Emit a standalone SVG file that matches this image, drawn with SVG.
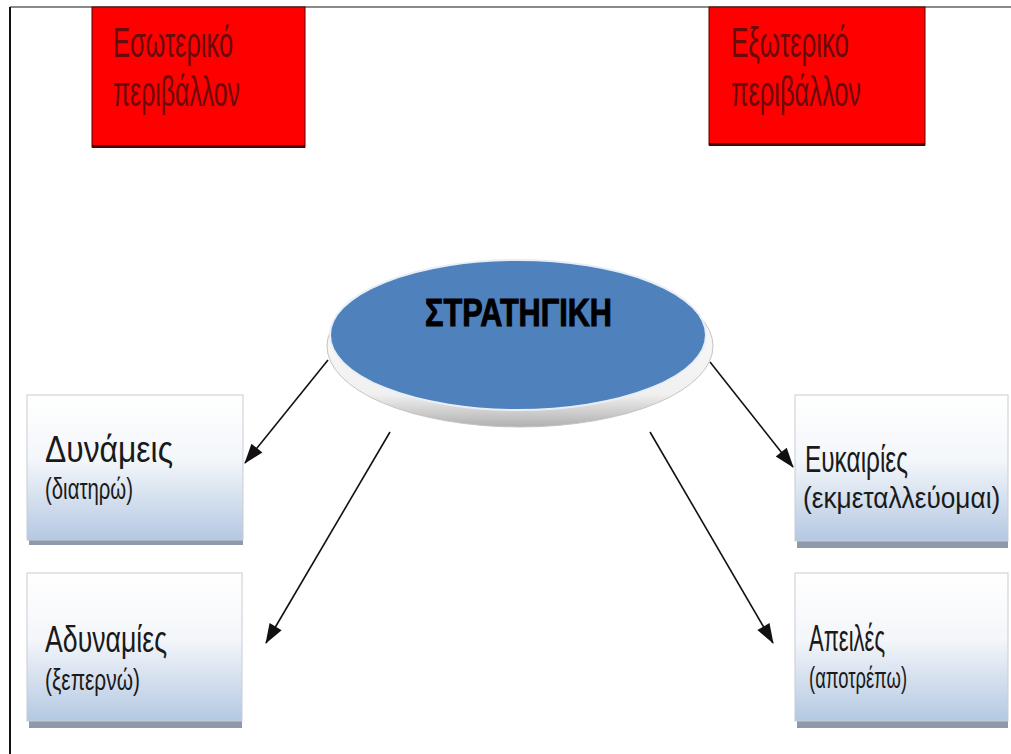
<svg xmlns="http://www.w3.org/2000/svg" width="1011" height="754" viewBox="0 0 1011 754">
<defs>
<style>
.red{fill:#ff0000;stroke:#5a0000;stroke-width:1}
.redtxt{font-family:"Liberation Sans",Arial,sans-serif;font-size:43px;fill:#6a0b0b}
.box{fill:url(#bg);stroke:#c8ccd2;stroke-width:1}
.shadow{fill:#8e9aab}
.main{font-family:"Liberation Sans",Arial,sans-serif;font-size:37px;fill:#1a1a1a}
.sub{font-family:"Liberation Sans",Arial,sans-serif;font-size:30px;fill:#1a1a1a}
.conn{stroke:#111;stroke-width:1.6;fill:none;marker-end:url(#ah)}
</style>
<linearGradient id="bg" x1="0" y1="0" x2="0" y2="1">
<stop offset="0" stop-color="#ffffff"/>
<stop offset="0.45" stop-color="#f3f6fa"/>
<stop offset="1" stop-color="#b4c8e2"/>
</linearGradient>
<linearGradient id="rim" x1="0" y1="0" x2="0" y2="1">
<stop offset="0" stop-color="#ffffff"/>
<stop offset="0.8" stop-color="#f0f0f0"/>
<stop offset="1" stop-color="#b0b0b0"/>
</linearGradient>
<marker id="ah" viewBox="0 0 20 14" refX="19" refY="7" markerWidth="20" markerHeight="14" markerUnits="userSpaceOnUse" orient="auto" overflow="visible">
<path d="M0,0 L20,7 L0,14 z" fill="#111"/>
</marker>
</defs>
<rect x="0" y="0" width="1011" height="754" fill="#ffffff"/>
<line x1="10" y1="7" x2="1011" y2="7" stroke="#8a8a8a" stroke-width="2"/>
<line x1="10" y1="7" x2="10" y2="754" stroke="#111" stroke-width="2"/>

<g id="connectors">
<line class="conn" x1="328" y1="360" x2="245" y2="463"/>
<line class="conn" x1="390" y1="432" x2="266" y2="643"/>
<line class="conn" x1="710" y1="362" x2="793" y2="467"/>
<line class="conn" x1="650" y1="432" x2="773" y2="643"/>
</g>

<g id="internal">
<rect class="red" x="92" y="7" width="213" height="140"/>
<rect x="92" y="145" width="213" height="3" fill="#4a0000"/>
<text class="redtxt" x="113" y="57" textLength="120" lengthAdjust="spacingAndGlyphs">Εσωτερικό</text>
<text class="redtxt" x="113" y="106" textLength="127" lengthAdjust="spacingAndGlyphs">περιβάλλον</text>
</g>

<g id="external">
<rect class="red" x="709" y="7" width="216" height="138"/>
<rect x="709" y="143" width="216" height="3" fill="#4a0000"/>
<text class="redtxt" x="731" y="57" textLength="118" lengthAdjust="spacingAndGlyphs">Εξωτερικό</text>
<text class="redtxt" x="731" y="106" textLength="130" lengthAdjust="spacingAndGlyphs">περιβάλλον</text>
</g>

<g id="strategy">
<ellipse cx="520" cy="346" rx="193" ry="81" fill="url(#rim)" stroke="#c4c4c4" stroke-width="1"/>
<ellipse cx="518" cy="335" rx="188" ry="75" fill="#4f81bd" stroke="#e8eef6" stroke-width="2"/>
<text x="425" y="326" textLength="187" lengthAdjust="spacingAndGlyphs" style="font-family:'Liberation Sans',Arial,sans-serif;font-size:39px;font-weight:bold;fill:#000;stroke:#000;stroke-width:1">ΣΤΡΑΤΗΓΙΚΗ</text>
</g>

<g id="strengths">
<rect class="shadow" x="29" y="535" width="214" height="10"/>
<rect class="box" x="27" y="395" width="216" height="145"/>
<text class="main" x="45" y="462" textLength="128" lengthAdjust="spacingAndGlyphs">Δυνάμεις</text>
<text class="sub" x="45" y="499" textLength="88" lengthAdjust="spacingAndGlyphs">(διατηρώ)</text>
</g>

<g id="weaknesses">
<rect class="shadow" x="29" y="718" width="213" height="10"/>
<rect class="box" x="27" y="573" width="215" height="148"/>
<text class="main" x="45" y="652" textLength="122" lengthAdjust="spacingAndGlyphs">Αδυναμίες</text>
<text class="sub" x="45" y="690" textLength="95" lengthAdjust="spacingAndGlyphs">(ξεπερνώ)</text>
</g>

<g id="opportunities">
<rect class="shadow" x="797" y="538" width="211" height="10"/>
<rect class="box" x="795" y="395" width="213" height="146"/>
<text class="main" x="805" y="472" textLength="103" lengthAdjust="spacingAndGlyphs">Ευκαιρίες</text>
<text class="sub" transform="translate(803,508) scale(0.85,1)" x="0" y="0" textLength="232" lengthAdjust="spacingAndGlyphs">(εκμεταλλεύομαι)</text>
</g>

<g id="threats">
<rect class="shadow" x="797" y="718" width="211" height="10"/>
<rect class="box" x="795" y="573" width="213" height="148"/>
<text class="main" x="809" y="651" textLength="76" lengthAdjust="spacingAndGlyphs">Απειλές</text>
<text class="sub" x="809" y="688" textLength="98" lengthAdjust="spacingAndGlyphs">(αποτρέπω)</text>
</g>
</svg>
